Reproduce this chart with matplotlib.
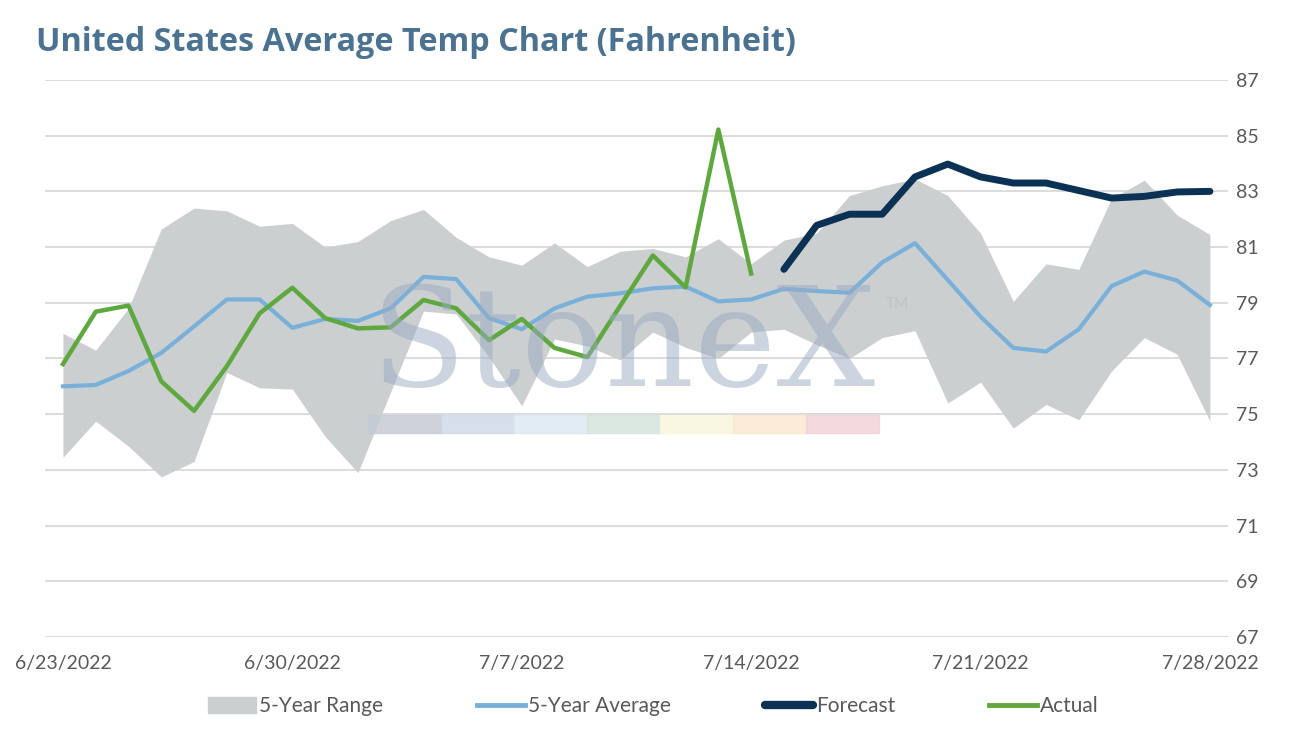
import pandas as pd
import matplotlib.pyplot as plt
from matplotlib.patches import Rectangle
from matplotlib.lines import Line2D
from matplotlib.patches import Patch

# daily values, 6/23/2022 .. 7/28/2022
dates = pd.date_range("2022-06-23", "2022-07-28", freq="D")

range_hi = [77.9, 77.3, 78.8, 81.65, 82.4, 82.3, 81.75, 81.85, 81.0, 81.2,
            81.95, 82.35, 81.35, 80.65, 80.35, 81.15, 80.3, 80.85, 80.95, 80.65,
            81.3, 80.4, 81.25, 81.5, 82.85, 83.2, 83.45, 82.85, 81.5, 79.05,
            80.4, 80.2, 82.75, 83.4, 82.15, 81.45]
range_lo = [73.45, 74.75, 73.85, 72.75, 73.3, 76.5, 75.95, 75.9, 74.2, 72.9,
            75.8, 78.7, 78.6, 77.05, 75.3, 77.7, 77.45, 76.95, 77.95, 77.4,
            77.0, 77.95, 78.05, 77.5, 77.0, 77.75, 78.0, 75.4, 76.15, 74.5,
            75.35, 74.8, 76.55, 77.75, 77.15, 74.75]
avg5 = [76.0, 76.05, 76.55, 77.2, 78.15, 79.12, 79.12, 78.1, 78.42, 78.35,
        78.8, 79.93, 79.85, 78.45, 78.05, 78.8, 79.22, 79.34, 79.52, 79.58,
        79.05, 79.12, 79.5, 79.42, 79.36, 80.45, 81.14, 79.82, 78.5, 77.38,
        77.25, 78.05, 79.6, 80.12, 79.8, 78.92]
actual = [76.8, 78.68, 78.9, 76.18, 75.12, 76.72, 78.62, 79.54, 78.45, 78.08,
          78.12, 79.1, 78.8, 77.66, 78.42, 77.38, 77.05, 78.88, 80.7, 79.55,
          85.22, 80.05]
forecast = [80.2, 81.78, 82.18, 82.18, 83.52, 83.98, 83.52, 83.3, 83.3, 83.03,
            82.76, 82.82, 82.98, 83.0]

yticks = list(range(67, 88, 2))
xtick_dates = pd.date_range("2022-06-23", "2022-07-28", freq="7D")
xtick_labels = [f"{d.month}/{d.day}/{d.year}" for d in xtick_dates]

band_color = "#cbcfd0"
avg_color = "#79b0da"
fc_color = "#0b3154"
act_color = "#5ea83f"
txt_color = "#595959"

plt.rcParams['font.family'] = ['Lato', 'DejaVu Sans']

fig = plt.figure(figsize=(12.99, 7.31), dpi=100)
ax = fig.add_axes([0.0346, 0.1286, 0.9107, 0.762])

ax.fill_between(dates, range_lo, range_hi, color=band_color, linewidth=0, zorder=1)
ax.plot(dates, avg5, color=avg_color, linewidth=3.0, zorder=4)
ax.plot(dates[22:], forecast, color=fc_color, linewidth=5.0,
        solid_capstyle='round', solid_joinstyle='round', zorder=5)
ax.plot(dates[:len(actual)], actual, color=act_color, linewidth=3.2, zorder=5)

ax.set_ylim(67, 87)
ax.set_xlim(dates[0] - pd.Timedelta(hours=13.2), dates[-1] + pd.Timedelta(hours=13.2))
ax.yaxis.tick_right()
ax.set_yticks(yticks)
ax.set_xticks(xtick_dates)
ax.set_xticklabels(xtick_labels)
ax.tick_params(length=0, labelsize=14, labelcolor=txt_color)
ax.tick_params(axis='x', pad=13)
ax.tick_params(axis='y', pad=6)
ax.grid(axis='y', color='#d9d9d9', linewidth=1.3, zorder=0)
ax.set_axisbelow(True)
for s in ax.spines.values():
    s.set_visible(False)

# StoneX watermark
fig.text(0.2855, 0.472, "StoneX", family='DejaVu Serif', fontsize=100,
         color='#9aabc2', alpha=0.5, zorder=3, ha='left', va='baseline')
fig.text(0.682, 0.578, "TM", fontsize=11, color='#bfbfbf', alpha=0.8)
bar_cols = ['#c5cbd5', '#d0dae7', '#dde9f4', '#d5e4dc', '#f8f6dc', '#fbe8d2', '#f2d4d8']
seg_w = 73 / 1299
for k, c in enumerate(bar_cols):
    fig.patches.append(Rectangle((368 / 1299 + k * seg_w, 1 - 433 / 731), seg_w, 18 / 731,
                                 transform=fig.transFigure, color=c, alpha=0.85, zorder=3))

fig.text(0.028, 0.942, "United States Average Temp Chart (Fahrenheit)",
         family=['Open Sans', 'DejaVu Sans'], fontsize=23.3, fontweight='bold',
         color='#4b7391', va='center')

handles = [Patch(color=band_color, label='5-Year Range'),
           Line2D([], [], color=avg_color, linewidth=3.5, label='5-Year Average'),
           Line2D([], [], color=fc_color, linewidth=6, solid_capstyle='round', label='Forecast'),
           Line2D([], [], color=act_color, linewidth=3.5, label='Actual')]
fig.legend(handles=handles, loc='center', bbox_to_anchor=(0.503, 0.034), ncol=4,
           frameon=False, fontsize=15, labelcolor=txt_color, handlelength=2.3,
           handleheight=0.75, handletextpad=0.15, columnspacing=4.5)

fig.savefig("out.png", dpi=100)
